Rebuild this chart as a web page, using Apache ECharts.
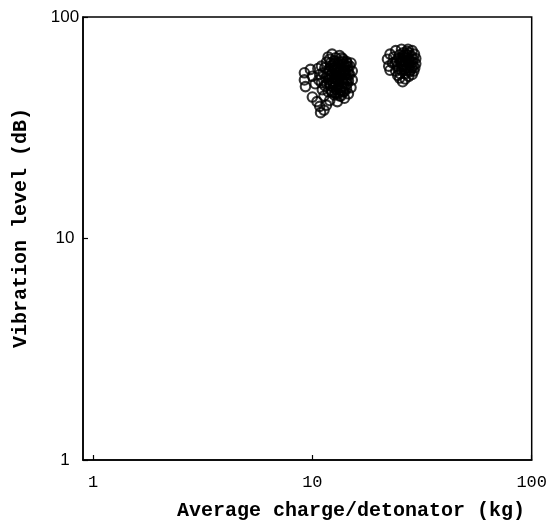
<!DOCTYPE html>
<html>
<head>
<meta charset="utf-8">
<script src="https://cdn.jsdelivr.net/npm/echarts@6/dist/echarts.min.js"></script>
<style>
html,body{margin:0;padding:0;background:#fff;}
#chart{width:550px;height:522px;}
</style>
</head>
<body>
<div id="chart"></div>
<script>
// Cluster 1 (around 10-15 kg)
var cluster1Charge = [11.8,12.3,12.8,13.3,13.8,14.3, 9.2,9.2,9.3,9.8,10.0,10.3, 10.0,10.5,10.8,11.3,10.9,11.6,12.0, 13.0,14.0,14.6,13.5, 15.0,15.2,15.2,15.0,14.8,14.8,
  11.0,11.2,11.5,11.4,11.8,11.9,12.1,12.2,12.4,12.5,12.6,12.7,12.9,13.0,13.1,13.2,13.4,13.5,13.6,13.7,13.9,14.0,14.1,14.2,14.4,14.5,14.6,
  10.8,10.6,10.7,11.0,11.1,11.3,11.6,12.0,12.3,12.9,13.3,13.8,12.6,13.6,12.0,14.4,11.4,12.8,13.3,14.0,
  11.7,12.0,12.2,12.5,12.7,13.0,13.2,13.4,13.7,13.9,14.2,14.5,11.9,12.3,12.6,12.9,13.1,13.5,13.8,14.1,14.4,
  12.1,12.4,12.8,13.2,13.6,13.9,14.3,12.2,12.7,13.1,13.5,14.0,11.6,12.5,13.3,14.2,12.0,13.0,13.7,14.6];
var cluster1Level = [66,68,65.5,67,64.5,63, 56,52,48.5,58,54,50, 43.5,41.5,39.5,38,37,40,42, 41.5,43,45,44, 62,57,52,48,55,60,
  60,56,53,49,46,58,62,55,51,48,44.5,59,56,53,62,49.5,46.5,58,54.5,51,61,48,57,53,50,59.5,55.5,
  55,58.5,52,50.5,47,44,62.5,50,45.5,47,44,46,63.5,65.5,64.5,62,59,52.5,56.5,59.5,
  55.5,57,60,61,57.5,59,60.5,62.5,63,57,60.5,57.5,52,53,55,54.5,51.5,52,53,55,52.5,
  49,50,50.5,47.5,48.5,50,47.5,46.5,45.5,45,46.5,46,50,58.5,54,55,54,58,56,51.5];
// Cluster 2 (around 22-30 kg)
var cluster2Charge = [22.6,24.0,25.5,27.3,28.5,29.2, 22.0,22.3,22.6, 25.0,25.8,26.5,27.5,28.5,29.0, 29.6,29.6,29.3,
  23.5,24.2,24.5,24.0,25.0,25.3,25.6,25.5,26.0,26.3,26.6,26.8,26.5,27.2,27.5,27.8,28.0,28.3,28.6,28.8,24.5,23.8,27.0,
  24.8,25.2,25.9,26.2,26.9,27.4,27.9,28.4,24.6,25.7,26.4,27.1,27.7,28.2,25.1,26.1,26.7,27.6,28.9,23.2];
var cluster2Level = [68,70.5,71.5,71.5,70.5,68, 64.5,60,57.5, 53,51,52.5,54,55,57, 65,61.5,59,
  66,63,60,57,67.5,64,61,57.5,69,66,62.5,59,55.5,67.5,64,60.5,57.5,66.5,62.5,60,54.5,61.5,70,
  65,62.5,63.5,60.5,65,62,63,59,58.5,59.5,58,57.5,56.5,63.5,55.5,67,68,69,64.5,62];
var xTickValues = [1, 10, 100];
var yTickValues = [1, 10, 100];
var xTitle = 'Average charge/detonator (kg)';
var yTitle = 'Vibration level (dB)';

function pairs(xs, ys){ var out=[]; for (var i=0;i<xs.length;i++) out.push([xs[i], ys[i]]); return out; }
function fmt(v){ var r = Math.round(v); return xTickValues.indexOf(r) >= 0 ? String(r) : ''; }

var chart = echarts.init(document.getElementById('chart'), null, {renderer:'canvas'});
var pointStyle = {color:'rgba(0,0,0,0)', borderColor:'#000', borderWidth:2.1};
chart.setOption({
  animation:false,
  backgroundColor:'#fff',
  grid:{left:83, right:17, top:17, bottom:62, show:true, borderColor:'#000', borderWidth:1.5, backgroundColor:'transparent'},
  xAxis:{
    type:'log', logBase:10, min:0.9, max:100,
    axisLine:{show:true, lineStyle:{color:'#000', width:1.5}},
    axisTick:{show:true, inside:true, length:5, lineStyle:{color:'#000', width:1.2}},
    splitLine:{show:false}, minorTick:{show:false},
    axisLabel:{showMinLabel:false, margin:14, color:'#000', fontFamily:'Liberation Mono', fontSize:17, formatter:fmt}
  },
  yAxis:{
    type:'log', logBase:10, min:1, max:100,
    axisLine:{show:true, lineStyle:{color:'#000', width:1.5}},
    axisTick:{show:true, inside:true, length:5, lineStyle:{color:'#000', width:1.2}},
    splitLine:{show:false}, minorTick:{show:false},
    axisLabel:{margin:18, align:'center', color:'#000', fontFamily:'Liberation Sans', fontSize:17, formatter:fmt}
  },
  graphic:[
    {type:'text', left:177, top:501, style:{text:xTitle, fill:'#000', font:'bold 20px "Liberation Mono"'}},
    {type:'text', x:21, y:228, rotation:Math.PI/2, style:{text:yTitle, fill:'#000', font:'bold 20px "Liberation Mono"', textAlign:'center', textVerticalAlign:'middle'}}
  ],
  series:[
    {type:'scatter', data:pairs(cluster1Charge, cluster1Level), symbol:'circle', symbolSize:9.5, itemStyle:pointStyle},
    {type:'scatter', data:pairs(cluster2Charge, cluster2Level), symbol:'circle', symbolSize:9.5, itemStyle:pointStyle}
  ]
});
</script>
</body>
</html>
